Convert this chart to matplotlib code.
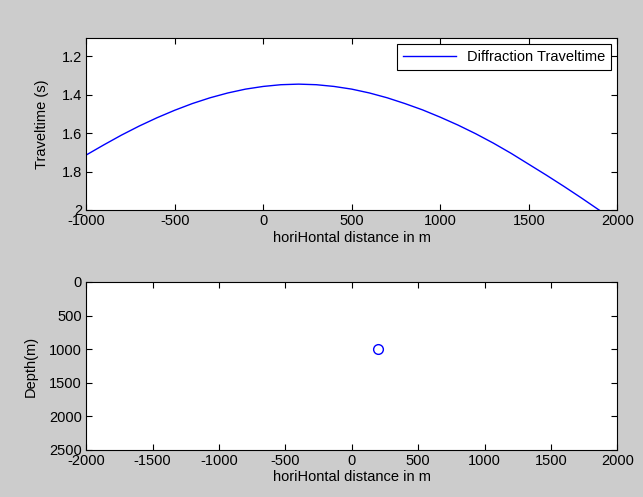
import numpy as np
import matplotlib
matplotlib.use('Agg')
import matplotlib.pyplot as plt

# dane
offset_m = [-1000, -900, -800, -700, -600, -500, -400, -300, -200, -100,
            0, 100, 200, 300, 400, 500, 600, 700, 800, 900,
            1000, 1100, 1200, 1300, 1400, 1500, 1600, 1700, 1800, 1900, 2000]
traveltime_s = [1.714, 1.661, 1.610, 1.563, 1.520, 1.481, 1.446, 1.416, 1.391, 1.371,
                1.357, 1.348, 1.345, 1.348, 1.357, 1.371, 1.391, 1.416, 1.446, 1.479,
                1.517, 1.558, 1.603, 1.652, 1.705, 1.762, 1.819, 1.878, 1.939, 2.002, 2.066]

scatter_x = [200]
scatter_z = [1000]

plt.rcParams['font.family'] = ['Liberation Sans', 'DejaVu Sans']
plt.rcParams['font.size'] = 10.5
plt.rcParams['axes.unicode_minus'] = False

fig = plt.figure(figsize=(6.43, 4.97), dpi=100)
fig.patch.set_facecolor('#cccccc')

def styl(ax):
	ax.set_facecolor('white')
	ax.tick_params(direction='in', top=True, right=True, length=4, width=0.8,
	               pad=3, colors='black', labelsize=10.5)
	for s in ax.spines.values():
		s.set_linewidth(0.8)
		s.set_color('black')

# gorny wykres - czas dyfrakcji
ax1 = fig.add_axes([0.134, 0.5775, 0.826, 0.346])
ax1.plot(offset_m, traveltime_s, color='blue', linewidth=1.0, label='Diffraction Traveltime')
ax1.set_xlim(-1000, 2000)
ax1.set_ylim(2.0, 1.105)
ax1.set_xticks(np.arange(-1000, 2001, 500))
ax1.set_yticks([1.2, 1.4, 1.6, 1.8, 2.0])
ax1.set_yticklabels(['1.2', '1.4', '1.6', '1.8', '2'])
ax1.set_xlabel('horiHontal distance in m', labelpad=2)
ax1.set_ylabel('Traveltime (s)', labelpad=9)
styl(ax1)
leg = ax1.legend(loc='upper right', fancybox=False, framealpha=1, edgecolor='black',
                 handlelength=3.6, borderaxespad=0.4, fontsize=10.5)
leg.get_frame().set_linewidth(0.8)

# dolny wykres - polozenie punktu dyfrakcji
ax2 = fig.add_axes([0.134, 0.0946, 0.826, 0.338])
ax2.plot(scatter_x, scatter_z, 'o', markerfacecolor='none', markeredgecolor='blue',
         markersize=7, markeredgewidth=1.0)
ax2.set_xlim(-2000, 2000)
ax2.set_ylim(2500, 0)
ax2.set_xticks(np.arange(-2000, 2001, 500))
ax2.set_yticks(np.arange(0, 2501, 500))
ax2.set_xlabel('horiHontal distance in m', labelpad=1)
ax2.set_ylabel('Depth(m)', labelpad=8)
styl(ax2)

fig.savefig('out.png', dpi=100, facecolor=fig.get_facecolor())
